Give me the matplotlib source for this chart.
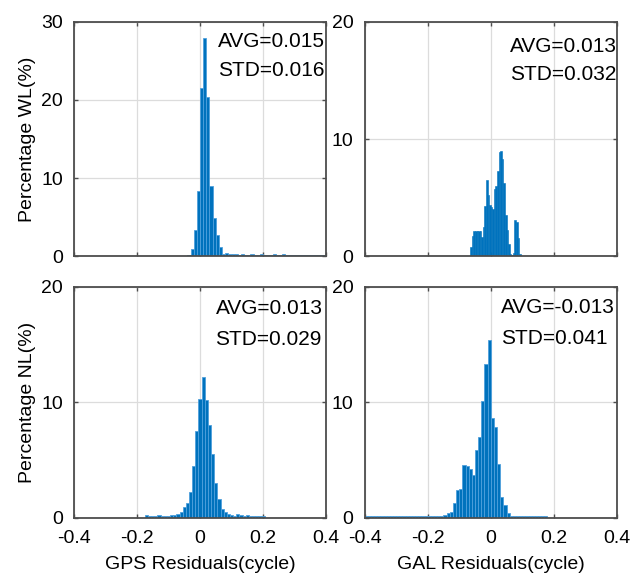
import matplotlib.pyplot as plt

plt.rcParams['font.family'] = ['Liberation Sans', 'DejaVu Sans']

FONTSIZE = 14
BLUE = '#0072BD'
EDGE = '#4FA0DC'
AXCOL = '#4d4d4d'

x_ticks = [-0.4, -0.2, 0, 0.2, 0.4]
x_tick_labels = ['-0.4', '-0.2', '0', '0.2', '0.4']

# GPS WL, bins of 0.01 starting at -0.04
gps_wl_start = -0.04
gps_wl_width = 0.01
gps_wl = [0.15, 0.94, 3.4, 8.3, 21.6, 27.9, 20.4, 9.0, 4.85, 2.7, 1.15, 0.3, 0.45,
          0.22, 0.2, 0.2, 0.18, 0.2, 0.18, 0.18, 0.2, 0.18, 0.18, 0.2,
          0.18, 0.18, 0.18, 0.2, 0.18, 0.18, 0.2, 0.18, 0.18, 0.18, 0.18,
          0.18, 0.18, 0.18, 0.18, 0.18, 0.18, 0.18, 0.18, 0.18]

# GAL WL, bins of 0.005 starting at -0.065
gal_wl_start = -0.065
gal_wl_width = 0.005
gal_wl = [0.8, 1.7, 2.1, 2.1, 2.1, 2.1, 2.1, 1.6, 2.5, 4.3, 6.5, 5.2, 4.4, 4.2,
          4.0, 5.7, 6.0, 7.3, 8.9, 9.0, 8.3, 6.2, 3.5, 2.2, 1.0, 0.2, 0.1,
          0.3, 3.1, 2.9, 1.5, 0.2]

# GPS NL, bins of 0.01 starting at -0.175
gps_nl_start = -0.175
gps_nl_width = 0.01
gps_nl = [0.25, 0.18, 0.18, 0.15, 0.25, 0.15, 0.15, 0.18, 0.22, 0.25, 0.3, 0.5, 0.9,
          1.3, 2.2, 4.5, 7.5, 10.3, 12.2, 10.2, 8.0, 5.5, 3.0, 1.6, 0.8, 0.5,
          0.3, 0.25, 0.2, 0.3, 0.25, 0.18, 0.22, 0.15, 0.18, 0.15, 0.15, 0.15]

# GAL NL, bins of 0.01 starting at -0.4
gal_nl_start = -0.4
gal_nl_width = 0.01
gal_nl = [0.2, 0.15, 0.18, 0.15, 0.15, 0.15, 0.18, 0.2, 0.15, 0.15, 0.15, 0.15,
          0.18, 0.15, 0.15, 0.15, 0.18, 0.15, 0.15, 0.15, 0.18, 0.18, 0.15,
          0.18, 0.2, 0.25, 0.4, 0.55, 1.3, 2.4, 2.5, 4.6, 4.5, 4.2, 3.7, 5.9,
          7.0, 10.1, 13.3, 15.4, 8.6, 7.9, 4.7, 1.85, 1.1, 0.45, 0.2, 0.18,
          0.18, 0.18, 0.2, 0.18, 0.18, 0.18, 0.2, 0.18, 0.18, 0.15]

panels = [
    (gps_wl_start, gps_wl_width, gps_wl, 30, [0, 10, 20, 30], 'AVG=0.015', 'STD=0.016'),
    (gal_wl_start, gal_wl_width, gal_wl, 20, [0, 10, 20], 'AVG=0.013', 'STD=0.032'),
    (gps_nl_start, gps_nl_width, gps_nl, 20, [0, 10, 20], 'AVG=0.013', 'STD=0.029'),
    (gal_nl_start, gal_nl_width, gal_nl, 20, [0, 10, 20], 'AVG=-0.013', 'STD=0.041'),
]
text_x = [0.057, 0.061, 0.049, 0.032]
text_y = [(27.5, 23.8), (17.9, 15.5), (18.1, 15.4), (18.2, 15.55)]
y_labels = ['Percentage WL(%)', '', 'Percentage NL(%)', '']
x_labels = ['', '', 'GPS Residuals(cycle)', 'GAL Residuals(cycle)']

fig = plt.figure(figsize=(6.32, 5.78), dpi=100)
rects = [
    [0.117, 0.557, 0.399, 0.405],
    [0.577, 0.557, 0.399, 0.405],
    [0.117, 0.104, 0.399, 0.400],
    [0.577, 0.104, 0.399, 0.400],
]

for i, (start, width, heights, ymax, yticks, avg, std) in enumerate(panels):
    ax = fig.add_axes(rects[i])
    centers = [start + width * (k + 0.5) for k in range(len(heights))]
    lw = 0.4 if width < 0.01 else 0.6
    ec = BLUE if width < 0.01 else EDGE
    ax.bar(centers, heights, width=width, color=BLUE, edgecolor=ec, linewidth=lw, zorder=3)
    ax.set_xlim(-0.4, 0.4)
    ax.set_ylim(0, ymax)
    ax.set_xticks(x_ticks)
    if i >= 2:
        ax.set_xticklabels(x_tick_labels)
    else:
        ax.set_xticklabels([])
    ax.set_yticks(yticks)
    ax.set_yticklabels([str(t) for t in yticks])
    ax.grid(True, color='#dcdcdc', linewidth=0.9, zorder=0)
    ax.set_axisbelow(True)
    ax.tick_params(direction='in', top=True, right=True, length=3, width=1,
                   color=AXCOL, labelsize=FONTSIZE)
    ax.tick_params(axis='x', pad=9)
    ax.tick_params(axis='y', pad=8)
    for s in ax.spines.values():
        s.set_color(AXCOL)
        s.set_linewidth(1.3)
        s.set_zorder(5)
    ax.text(text_x[i], text_y[i][0], avg, fontsize=15, va='center', ha='left', zorder=6)
    ax.text(text_x[i], text_y[i][1], std, fontsize=15, va='center', ha='left', zorder=6)
    if y_labels[i]:
        ax.set_ylabel(y_labels[i], fontsize=FONTSIZE, labelpad=4)
    if x_labels[i]:
        ax.set_xlabel(x_labels[i], fontsize=FONTSIZE, labelpad=6)

fig.savefig('out.png', dpi=100)
